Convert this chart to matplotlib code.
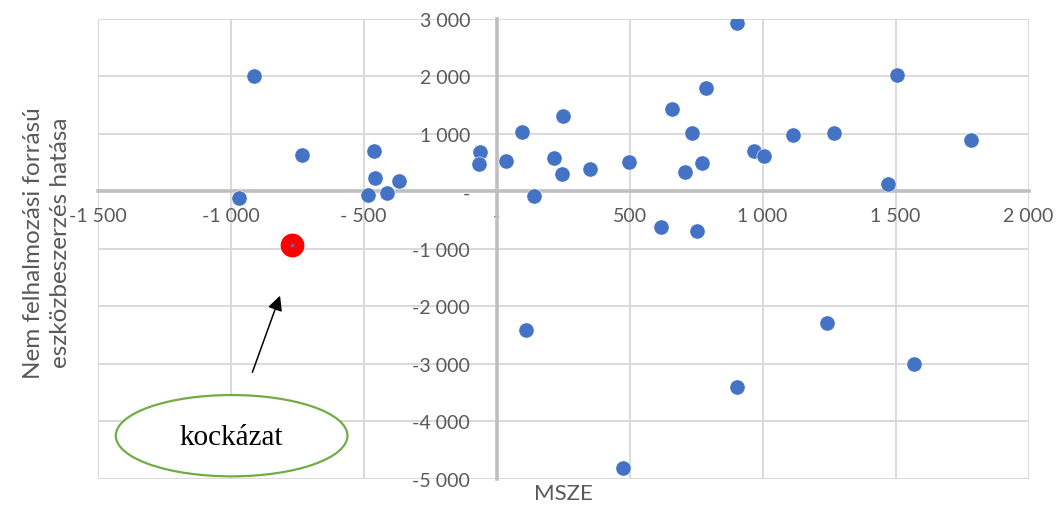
import matplotlib.pyplot as plt
from matplotlib.patches import Ellipse
from matplotlib.ticker import FuncFormatter, MultipleLocator

# MSZE vs. nem felhalmozási forrású eszközbeszerzés hatása
msze = [-910, -731, -968, -460, -457, -365, -484, -413, -61, -66,
        35, 97, 251, 217, 247, 352, 497, 141, 905, 786,
        661, 734, 969, 1007, 1113, 771, 709, 617, 753, 1268,
        1504, 1471, 1783, 111, 477, 1242, 1571, 903]
hatas = [2000, 640, -113, 704, 230, 177, -56, -31, 692, 473,
         536, 1040, 1308, 577, 299, 391, 518, -78, 2925, 1795,
         1435, 1017, 710, 623, 983, 496, 345, -617, -682, 1017,
         2026, 130, 896, -2403, -4814, -2292, -3005, -3405]

# kiemelt (kockázatos) pont
risk_x = [-770]
risk_y = [-930]

label_font = 'Lato'
gray = '#595959'

def thousands(v, pos):
    if v == 0:
        return '-'
    s = f'{abs(int(v)):,}'.replace(',', ' ')
    if v < 0:
        return ('-' if abs(v) >= 1000 else '- ') + s
    return s

fig = plt.figure(figsize=(10.58, 5.06), dpi=100)
ax = fig.add_axes([0.0922, 0.0514, 0.880, 0.9091])

ax.set_xlim(-1500, 2000)
ax.set_ylim(-5000, 3000)
ax.xaxis.set_major_locator(MultipleLocator(500))
ax.yaxis.set_major_locator(MultipleLocator(1000))
ax.xaxis.set_major_formatter(FuncFormatter(thousands))
ax.yaxis.set_major_formatter(FuncFormatter(thousands))

ax.grid(True, color='#d9d9d9', linewidth=1.4, zorder=0)
for g in ax.get_xgridlines() + ax.get_ygridlines():
    g.set_clip_on(False)
ax.set_axisbelow(True)

for side in ['top', 'right']:
    ax.spines[side].set_visible(False)
for side in ['left', 'bottom']:
    ax.spines[side].set_position(('data', 0))
    ax.spines[side].set_color('#bfbfbf')
    ax.spines[side].set_linewidth(2.6)

ax.tick_params(axis='both', length=0, colors=gray, labelsize=14)
ax.tick_params(axis='y', pad=19)
ax.tick_params(axis='x', pad=11)
for lab in ax.get_xticklabels() + ax.get_yticklabels():
    lab.set_fontfamily(label_font)

ax.scatter(msze, hatas, s=120, color='#4472c4', edgecolors='white',
           linewidths=0.4, zorder=3)
ax.scatter(risk_x, risk_y, s=260, color='#ff0000', zorder=4)
ax.scatter(risk_x, risk_y, s=3, color='#4472c4', zorder=5)

# kockázat felirat és nyíl
ax.add_patch(Ellipse((-996, -4247), 871, 1414, facecolor='white',
                     edgecolor='#70ad47', linewidth=1.6, zorder=6))
ax.text(-996, -4270, 'kockázat', ha='center', va='center', fontsize=21,
        family='Liberation Serif', color='black', zorder=7)
ax.annotate('', xy=(-814, -1812), xytext=(-918, -3144),
            arrowprops=dict(arrowstyle='-|>', color='black', lw=1.1,
                            mutation_scale=22, shrinkA=0, shrinkB=0),
            zorder=7)

fig.text(563 / 1058, 1 - 494 / 506, 'MSZE', ha='center', va='center',
         fontsize=16, color=gray, family=label_font)
fig.text(47 / 1058, 1 - 243 / 506,
         'Nem felhalmozási forrású\neszközbeszerzés hatása',
         rotation=90, ha='center', va='center', multialignment='center',
         fontsize=17.5, color=gray, family=label_font, linespacing=1.3)

fig.savefig('out.png', dpi=100)
